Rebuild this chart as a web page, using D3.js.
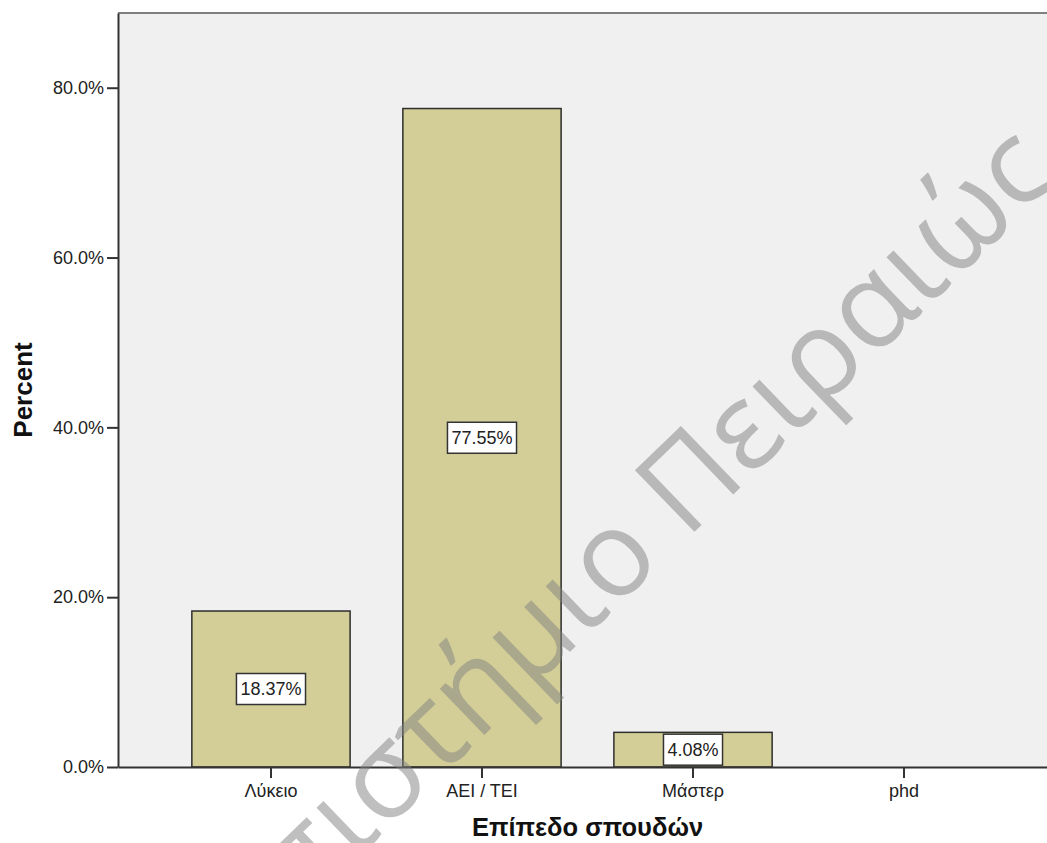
<!DOCTYPE html>
<html>
<head>
<meta charset="utf-8">
<script src="https://cdn.jsdelivr.net/npm/d3@7"></script>
<style>
  html, body { margin: 0; padding: 0; background: #ffffff; }
  svg { display: block; }
</style>
</head>
<body>
<svg id="chart" width="1047" height="843"></svg>
<script>
// Education level distribution (percent of respondents)
const categories = ["Λύκειο", "AEI / TEI", "Μάστερ", "phd"];
const percents = [18.37, 77.55, 4.08, 0];
const yTicks = [0, 20, 40, 60, 80];
const xTitle = "Επίπεδο σπουδών";
const yTitle = "Percent";
const watermarkWords = ["Πανεπιστήμιο", "Πειραιώς"];

const W = 1047, H = 843;
const plot = { left: 118, top: 13, right: 1057, bottom: 767 };
const FONT = "'Liberation Sans', Arial, sans-serif";

const svg = d3.select("#chart");

const x = d3.scaleBand()
  .domain(categories)
  .range([plot.left, plot.right])
  .paddingInner(0.25)
  .paddingOuter(0.35);

const y = d3.scaleLinear()
  .domain([0, 88.8])
  .range([plot.bottom, plot.top]);

// plot background
svg.append("rect")
  .attr("x", plot.left).attr("y", plot.top)
  .attr("width", plot.right - plot.left).attr("height", plot.bottom - plot.top)
  .attr("fill", "#f0f0f0");

// top frame line
svg.append("line")
  .attr("x1", plot.left).attr("x2", W)
  .attr("y1", plot.top).attr("y2", plot.top)
  .attr("stroke", "#808080").attr("stroke-width", 2);

// bars
const rows = categories.map((c, i) => ({ cat: c, value: percents[i] }));
svg.append("g")
  .selectAll("rect")
  .data(rows.filter(d => d.value > 0))
  .join("rect")
  .attr("x", d => x(d.cat))
  .attr("y", d => y(d.value))
  .attr("width", x.bandwidth())
  .attr("height", d => y(0) - y(d.value))
  .attr("fill", "#d3ce98")
  .attr("stroke", "#2e2e2e")
  .attr("stroke-width", 1.5);

// y axis
const yAxis = svg.append("g")
  .attr("transform", `translate(${plot.left},0)`)
  .call(d3.axisLeft(y).tickValues(yTicks).tickFormat(d => d.toFixed(1) + "%").tickSize(11).tickPadding(3).tickSizeOuter(0));
yAxis.select(".domain").attr("stroke", "#333").attr("stroke-width", 2);
yAxis.selectAll(".tick line").attr("stroke", "#333").attr("stroke-width", 2);
yAxis.selectAll(".tick text").attr("font-family", FONT).attr("font-size", 18).attr("fill", "#222");

// x axis
const xAxis = svg.append("g")
  .attr("transform", `translate(0,${plot.bottom})`)
  .call(d3.axisBottom(x).tickSize(11).tickPadding(6).tickSizeOuter(0));
xAxis.select(".domain").attr("stroke", "#333").attr("stroke-width", 2);
xAxis.selectAll(".tick line").attr("stroke", "#333").attr("stroke-width", 2);
xAxis.selectAll(".tick text").attr("font-family", FONT).attr("font-size", 18).attr("fill", "#222");

// value labels in boxes at bar middles
const labels = svg.append("g")
  .selectAll("g")
  .data(rows.filter(d => d.value > 0))
  .join("g")
  .attr("transform", d => `translate(${x(d.cat) + x.bandwidth() / 2},${(y(d.value) + y(0)) / 2})`);
labels.each(function (d) {
  const g = d3.select(this);
  const rect = g.append("rect");
  const t = g.append("text")
    .attr("text-anchor", "middle")
    .attr("dy", "0.35em")
    .attr("font-family", FONT)
    .attr("font-size", 18)
    .attr("fill", "#222")
    .text(d.value.toFixed(2) + "%");
  const w = t.node().getComputedTextLength() + 8;
  rect.attr("x", -w / 2).attr("y", -15.5).attr("width", w).attr("height", 31)
    .attr("fill", "#ffffff").attr("stroke", "#333").attr("stroke-width", 1.5);
});

// axis titles
svg.append("text")
  .attr("x", (plot.left + plot.right) / 2).attr("y", 836)
  .attr("text-anchor", "middle")
  .attr("font-family", FONT).attr("font-weight", "bold").attr("font-size", 25.5)
  .attr("fill", "#111")
  .text(xTitle);

svg.append("text")
  .attr("transform", `translate(32,${(plot.top + plot.bottom) / 2}) rotate(-90)`)
  .attr("text-anchor", "middle")
  .attr("font-family", FONT).attr("font-weight", "bold").attr("font-size", 26)
  .attr("fill", "#111")
  .text(yTitle);

// diagonal watermark
const wm = svg.append("g")
  .attr("transform", "translate(686,540) rotate(-44)")
  .attr("font-family", "'Open Sans', sans-serif")
  .attr("font-size", 120)
  .attr("fill", "#808080")
  .attr("fill-opacity", 0.5);
wm.append("text").attr("x", -30).attr("text-anchor", "end").text(watermarkWords[0]);
wm.append("text").attr("x", 0).attr("text-anchor", "start").text(watermarkWords[1]);
</script>
</body>
</html>
